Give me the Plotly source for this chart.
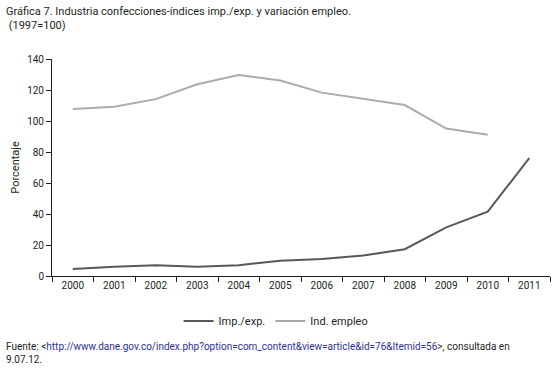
import plotly.graph_objects as go

years = ["2000", "2001", "2002", "2003", "2004", "2005", "2006", "2007", "2008", "2009", "2010", "2011"]
imp_exp = [4.5, 6.0, 7.0, 6.0, 7.0, 9.8, 10.9, 13.2, 17.3, 31.4, 41.5, 76.1]
ind_empleo = [107.7, 109.2, 114.1, 123.7, 129.7, 126.1, 118.3, 114.3, 110.3, 95.1, 91.2, None]
y_ticks = [0, 20, 40, 60, 80, 100, 120, 140]

FONT = "Roboto, Liberation Sans, sans-serif"
TXT = "#231f20"
PH = 217  # plot height in px
PW = 498

fig = go.Figure()
fig.add_trace(go.Scatter(x=years, y=imp_exp, mode="lines", name="Imp./exp.",
                         line=dict(color="#58585a", width=2)))
fig.add_trace(go.Scatter(x=years, y=ind_empleo, mode="lines", name="Ind. empleo",
                         line=dict(color="#ababab", width=2)))

fig.update_layout(
    width=560, height=380,
    margin=dict(l=52, r=10, t=59, b=104),
    paper_bgcolor="white", plot_bgcolor="white",
    font=dict(family=FONT, size=11, color=TXT),
    showlegend=True,
    legend=dict(orientation="h", x=0.45, xanchor="center", y=-(321 - 276) / PH, yanchor="middle",
                font=dict(size=11, color=TXT), itemwidth=30),
)
fig.update_xaxes(type="category", range=[-0.5, 11.5], tickson="boundaries", automargin=False,
                 ticks="outside", ticklen=5, tickcolor=TXT, showline=True, linecolor=TXT,
                 linewidth=1, showgrid=False, tickfont=dict(size=10, color=TXT))
fig.update_yaxes(range=[0, 140], tickvals=y_ticks, ticks="outside", ticklen=5, tickcolor=TXT,
                 showline=True, linecolor=TXT, linewidth=1, showgrid=False, zeroline=False,
                 automargin=False, tickfont=dict(size=10, color=TXT),
                 title=dict(text="Porcentaje", font=dict(size=11, color=TXT), standoff=5))

fig.add_annotation(xref="paper", yref="paper", x=-52 / PW, y=1 + 59 / PH, xanchor="left", yanchor="top",
                   xshift=4, yshift=-3, align="left", showarrow=False,
                   text="Gráfica 7. Industria confecciones-índices imp./exp. y variación empleo.<br> (1997=100)",
                   font=dict(size=11, color=TXT))
fig.add_annotation(xref="paper", yref="paper", x=-52 / PW, y=-(339 - 276) / PH, xanchor="left", yanchor="top",
                   xshift=4, align="left", showarrow=False,
                   text="Fuente: &lt;<span style='color:#2e3192'>http://www.dane.gov.co/index.php?option=com_content&amp;view=article&amp;id=76&amp;Itemid=56</span>&gt;, consultada en<br>9.07.12.",
                   font=dict(size=10, color=TXT))

fig.write_html("out.html", config={"displayModeBar": False},
               post_script="document.body.style.margin='0';document.body.style.overflow='hidden';")
